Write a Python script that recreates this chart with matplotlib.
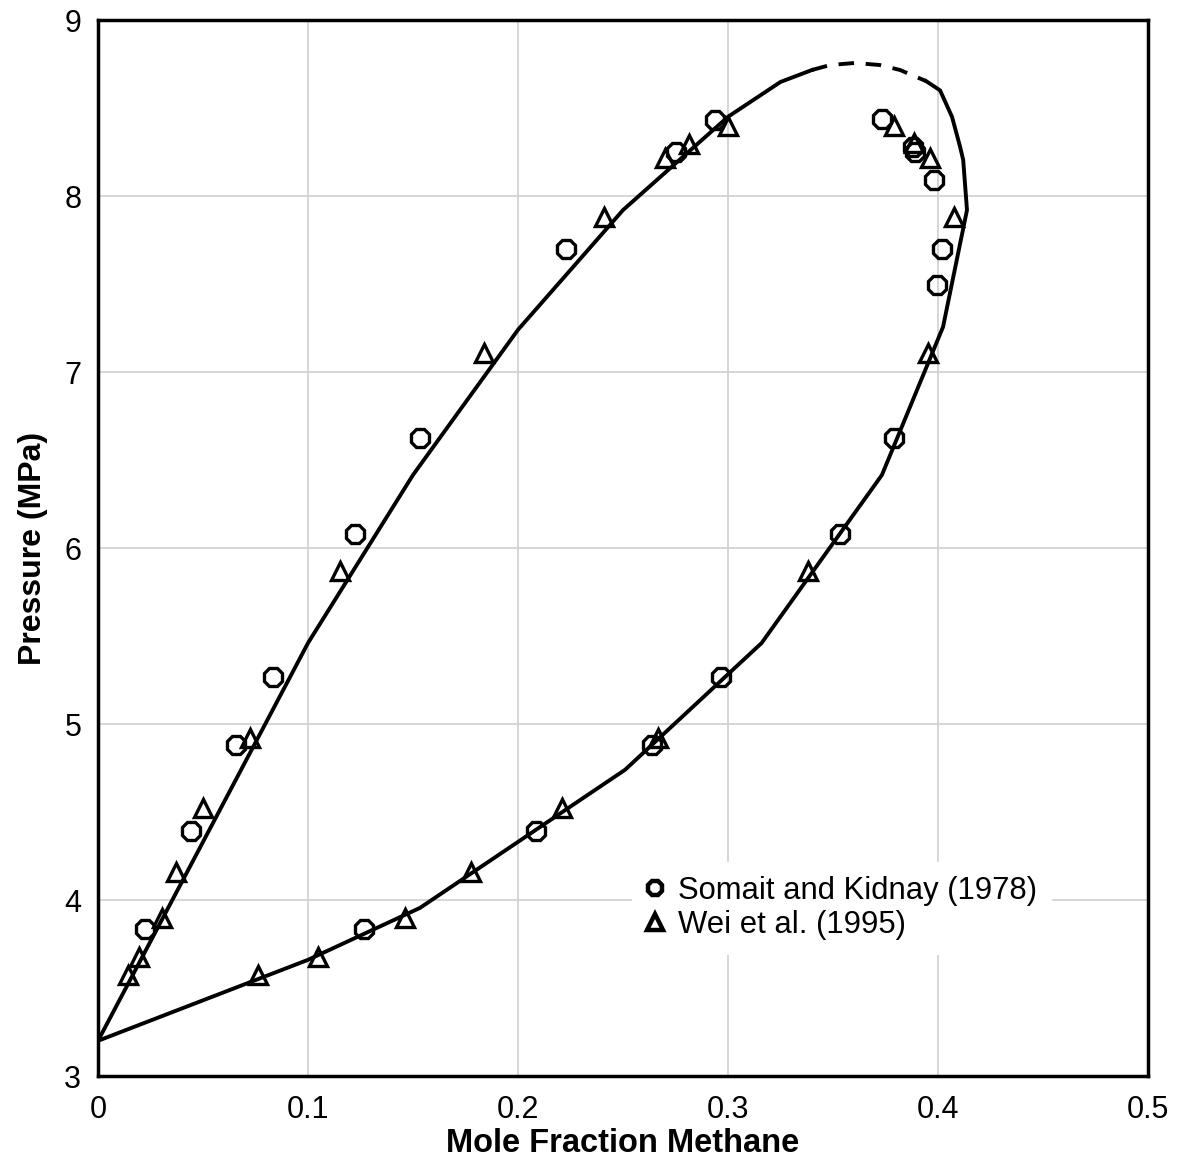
import matplotlib
matplotlib.use("Agg")
import matplotlib.pyplot as plt
from matplotlib.lines import Line2D

plt.rcParams['font.family'] = ['Liberation Sans', 'DejaVu Sans']

# Somait and Kidnay (1978)
sk_x = [0.0224, 0.0443, 0.0657, 0.0833, 0.1224, 0.1533, 0.2229, 0.2752, 0.2938,
        0.1267, 0.2086, 0.2638, 0.2967, 0.3533, 0.3790, 0.3995, 0.4019, 0.3980,
        0.3890, 0.3880, 0.3733]
sk_p = [3.835, 4.39, 4.88, 5.267, 6.08, 6.625, 7.699, 8.25, 8.43,
        3.835, 4.39, 4.88, 5.267, 6.08, 6.625, 7.494, 7.70, 8.09,
        8.25, 8.28, 8.44]

# Wei et al. (1995)
wei_x = [0.0143, 0.0195, 0.0305, 0.0371, 0.0500, 0.0724, 0.1152, 0.1838, 0.2410,
         0.2700, 0.2814, 0.3000, 0.3790, 0.3886, 0.3960, 0.4076, 0.3950, 0.3380,
         0.2667, 0.2210, 0.1776, 0.1462, 0.1048, 0.0762]
wei_p = [3.574, 3.676, 3.898, 4.159, 4.52, 4.92, 5.87, 7.108, 7.88,
         8.216, 8.295, 8.40, 8.40, 8.30, 8.216, 7.88, 7.108, 5.87,
         4.92, 4.52, 4.159, 3.898, 3.676, 3.574]

# Model: solid liquid branch (left)
liq_x = [0.0, 0.10, 0.15, 0.20, 0.25, 0.30, 0.325, 0.340]
liq_p = [3.2, 5.46, 6.415, 7.24, 7.92, 8.45, 8.648, 8.716]
# Model: dashed near-critical region
crit_x = [0.340, 0.3486, 0.3605, 0.3724, 0.3819, 0.3943]
crit_p = [8.716, 8.744, 8.756, 8.744, 8.716, 8.653]
# Model: solid vapor branch (right)
vap_x = [0.3943, 0.401, 0.4067, 0.4105, 0.412, 0.4138, 0.4024, 0.3733, 0.316,
         0.251, 0.1533, 0.10, 0.0]
vap_p = [8.653, 8.60, 8.449, 8.28, 8.205, 7.92, 7.256, 6.415, 5.46,
         4.74, 3.955, 3.66, 3.2]

x_ticks = [0, 0.1, 0.2, 0.3, 0.4, 0.5]
x_tick_labels = ['0', '0.1', '0.2', '0.3', '0.4', '0.5']
y_ticks = [3, 4, 5, 6, 7, 8, 9]

fig = plt.figure(figsize=(11.85, 11.76), dpi=100)
ax = fig.add_axes([98/1185, 1 - 1076/1176, (1148 - 98)/1185, (1076 - 20)/1176])

ax.plot(liq_x, liq_p, color='black', lw=2.8, solid_joinstyle='round', zorder=3)
ax.plot(vap_x, vap_p, color='black', lw=2.8, solid_joinstyle='round', zorder=3)
ax.plot(crit_x, crit_p, color='black', lw=2.8, linestyle=(0, (4, 3)), zorder=3)

ax.plot(sk_x, sk_p, linestyle='none', marker='8', markersize=14,
        markerfacecolor='none', markeredgecolor='black', markeredgewidth=2.4, zorder=4)
ax.plot(wei_x, wei_p, linestyle='none', marker='^', markersize=13,
        markerfacecolor='none', markeredgecolor='black', markeredgewidth=2.4, zorder=4)

ax.set_xlim(0, 0.5)
ax.set_ylim(3, 9)
ax.set_xticks(x_ticks)
ax.set_xticklabels(x_tick_labels)
ax.set_yticks(y_ticks)
ax.tick_params(length=0, labelsize=22)
ax.tick_params(axis='x', pad=14)
ax.tick_params(axis='y', pad=12)
ax.grid(True, color='#d0d0d0', lw=1.2, zorder=0)
ax.set_axisbelow(True)
for s in ax.spines.values():
    s.set_linewidth(2.5)
    s.set_color('black')

ax.set_xlabel('Mole Fraction Methane', fontsize=23.5, fontweight='bold', labelpad=2)
ax.set_ylabel('Pressure (MPa)', fontsize=23, fontweight='bold', labelpad=12)

handles = [
    Line2D([], [], linestyle='none', marker='8', markersize=11, markerfacecolor='none',
           markeredgecolor='black', markeredgewidth=3.2),
    Line2D([], [], linestyle='none', marker='^', markersize=11, markerfacecolor='none',
           markeredgecolor='black', markeredgewidth=3.2),
]
leg = ax.legend(handles, ['Somait and Kidnay (1978)', 'Wei et al. (1995)'],
                loc='upper left', bbox_to_anchor=((632 - 98)/1050, 1 - (862 - 20)/1056),
                frameon=True, fontsize=22.3, handlelength=0.6, handletextpad=0.45,
                labelspacing=0.12, borderpad=0.45, borderaxespad=0)
leg.get_frame().set_facecolor('white')
leg.get_frame().set_edgecolor('white')
leg.get_frame().set_alpha(1)
leg.get_frame().set_boxstyle('square', pad=0)

fig.savefig('out.png', dpi=100)
